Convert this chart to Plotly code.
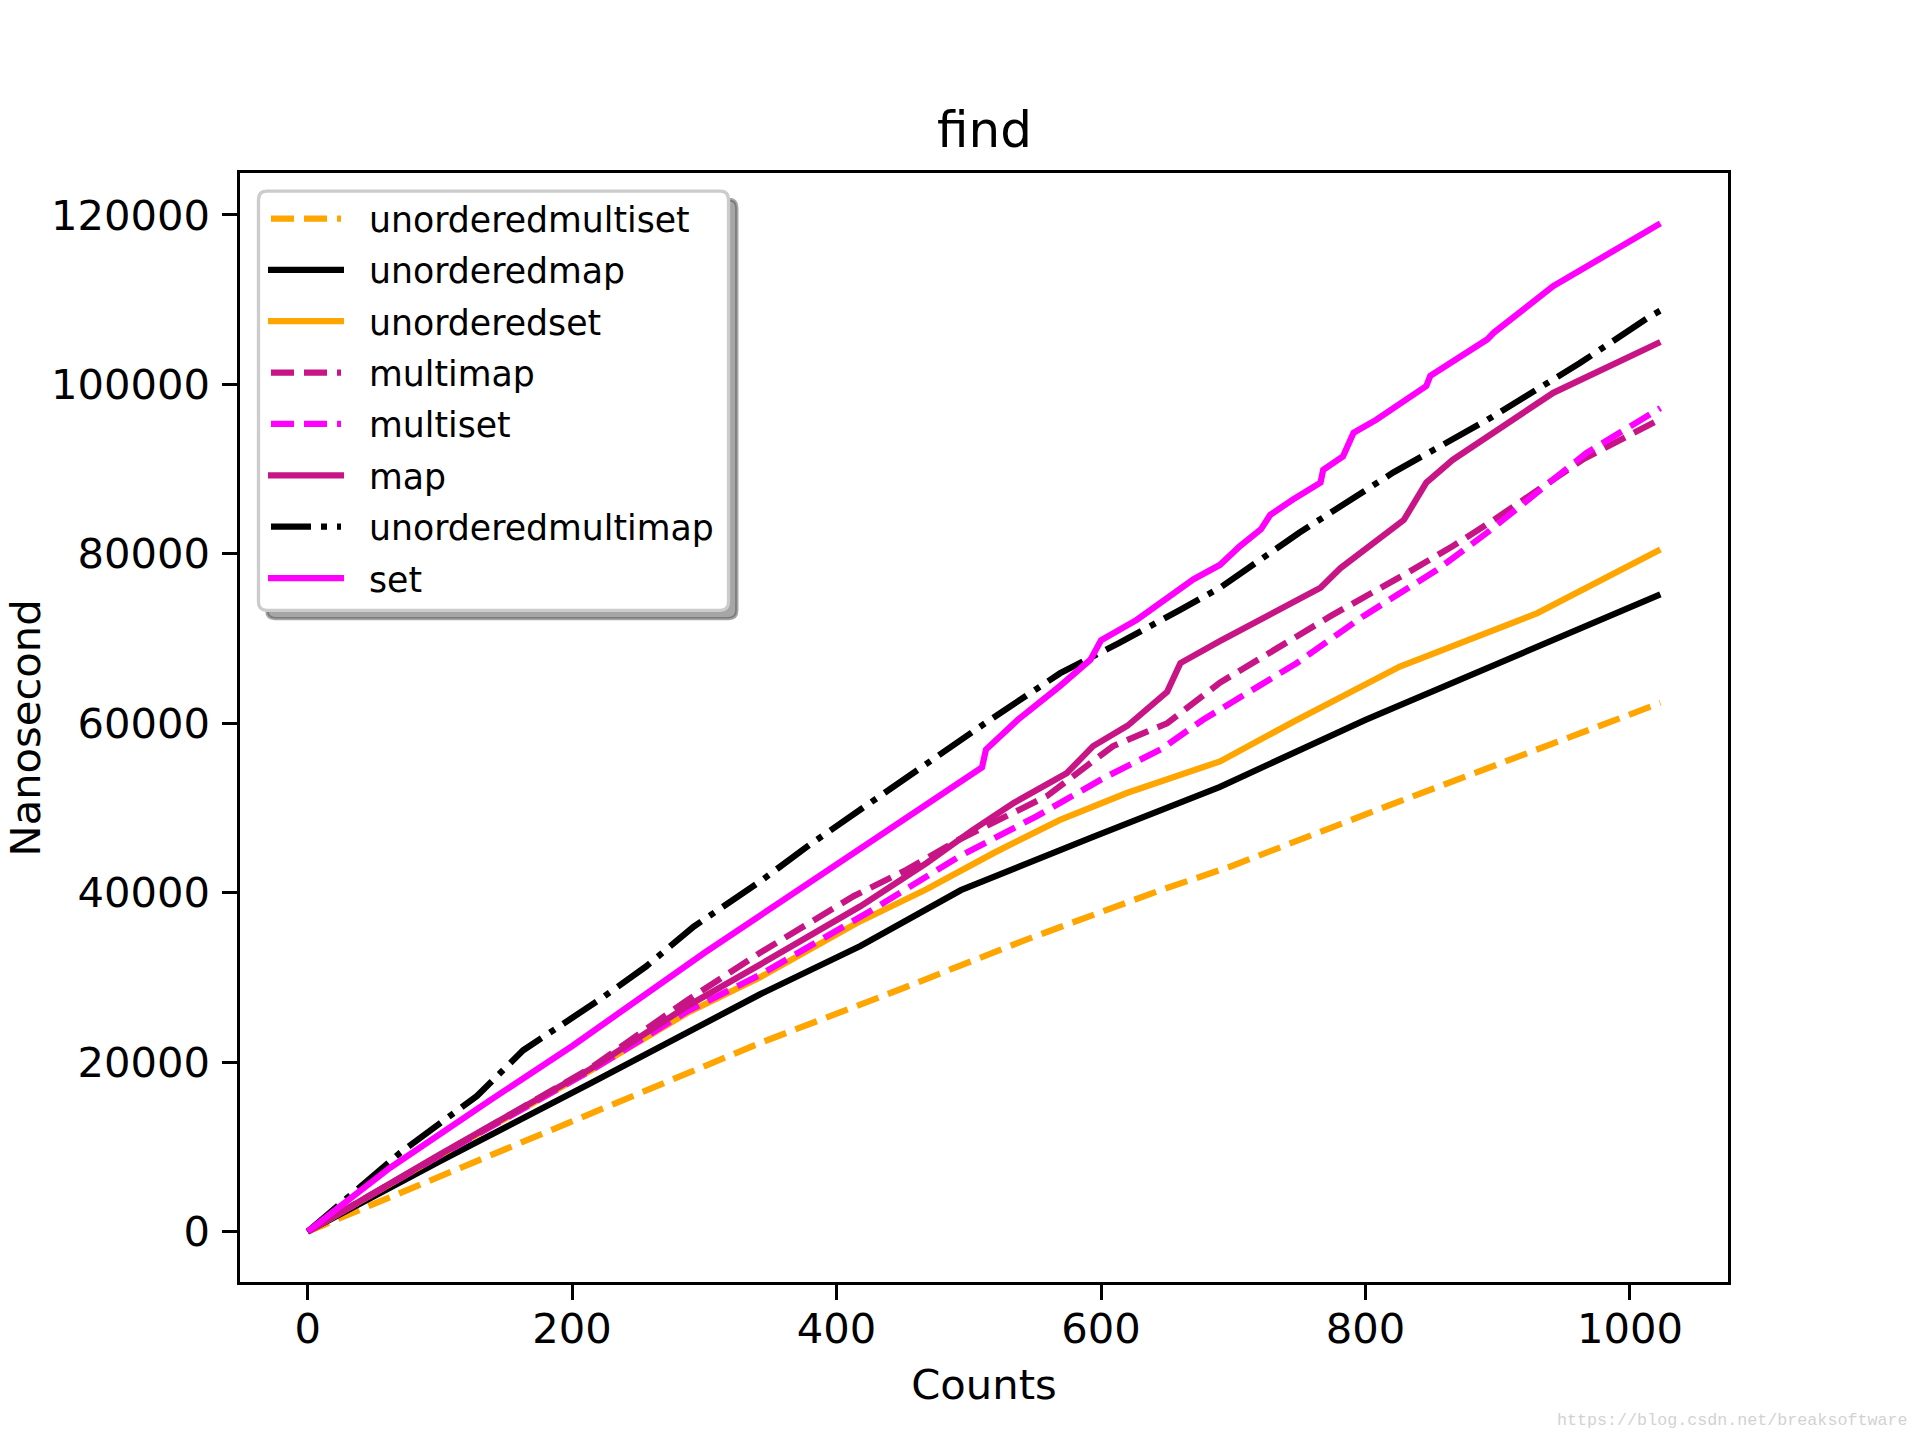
import plotly.graph_objects as go

# ---------------- data ----------------
series_names = ["unorderedmultiset", "unorderedmap", "unorderedset", "multimap",
                "multiset", "map", "unorderedmultimap", "set"]

counts_unorderedmultiset = [0, 100, 207, 342, 453, 544, 645, 698, 816, 917, 992, 1023]
ns_unorderedmultiset = [0, 6500, 13600, 22250, 28900, 34500, 40300, 43100, 50200, 56100, 60400, 62400]

counts_unorderedmap = [0, 100, 214, 342, 418, 494, 594, 690, 800, 892, 967, 1023]
ns_unorderedmap = [0, 8300, 17500, 28000, 33700, 40300, 46600, 52500, 60400, 66500, 71500, 75200]

counts_unorderedset = [0, 100, 214, 287, 342, 415, 468, 519, 569, 620, 690, 748, 826, 930, 1023]
ns_unorderedset = [0, 9000, 19000, 25800, 30000, 36400, 40400, 44700, 48600, 51800, 55500, 60400, 66700, 73000, 80500]

counts_multimap = [0, 100, 214, 287, 342, 413, 453, 493, 559, 609, 650, 690, 773, 831, 866, 897, 965, 1023]
ns_multimap = [0, 9100, 19300, 27300, 32900, 39600, 42700, 46300, 51400, 57300, 60000, 64800, 72600, 77700, 80900, 84000, 91200, 95900]

counts_multiset = [0, 100, 214, 287, 342, 423, 493, 551, 604, 645, 677, 698, 748, 798, 854, 892, 930, 967, 1023]
ns_multiset = [0, 9000, 19000, 26000, 30300, 37600, 44300, 49000, 53700, 56900, 60400, 62400, 67100, 72600, 78100, 82500, 87200, 91900, 97200]

counts_map = [0, 100, 214, 287, 342, 418, 468, 503, 534, 574, 594, 620, 650, 660, 690, 766, 781, 829, 846, 866, 942, 1023]
ns_map = [0, 9100, 19200, 26600, 31500, 38400, 43500, 47400, 50600, 54100, 57300, 59700, 63700, 67100, 69700, 76000, 78300, 84000, 88400, 91100, 99000, 105000]

counts_unorderedmultimap = [0, 70, 128, 163, 221, 256, 292, 342, 380, 425, 450, 493, 516, 569, 614, 660, 690, 750, 821, 892, 962, 1015, 1023]
ns_unorderedmultimap = [0, 9300, 16000, 21400, 27400, 31300, 36000, 41300, 45700, 50600, 53300, 58100, 60400, 65900, 69500, 73400, 76000, 82500, 89600, 95800, 102500, 108000, 108700]

counts_set = [0, 62, 138, 200, 300, 345, 400, 450, 500, 510, 513, 537, 569, 592, 600, 627, 670, 690,
              705, 721, 728, 745, 766, 768, 783, 791, 808, 846, 849, 892, 897, 942, 1023]
ns_set = [0, 7500, 15500, 21900, 32900, 37600, 43500, 48600, 53900, 54800, 56900, 60400, 64400, 67500, 69800, 72200, 77000, 78700,
          80900, 82900, 84600, 86400, 88400, 89900, 91500, 94300, 95800, 99800, 101000, 105300, 106100, 111600, 119000]

x_tick_values = [0, 200, 400, 600, 800, 1000]
y_tick_values = [0, 20000, 40000, 60000, 80000, 100000, 120000]

title_text = "find"
x_label = "Counts"
y_label = "Nanosecond"
watermark = "https://blog.csdn.net/breaksoftware"

# ---------------- styles ----------------
ORANGE = "#FFA500"
BLACK = "#000000"
MVR = "#C71585"
MAGENTA = "#FF00FF"
DASHED = "23px,10px"
DASHDOT = "40px,10px,6px,10px"
styles = {
    "unorderedmultiset": (ORANGE, DASHED),
    "unorderedmap": (BLACK, "solid"),
    "unorderedset": (ORANGE, "solid"),
    "multimap": (MVR, DASHED),
    "multiset": (MAGENTA, DASHED),
    "map": (MVR, "solid"),
    "unorderedmultimap": (BLACK, DASHDOT),
    "set": (MAGENTA, "solid"),
}
data = {
    "unorderedmultiset": (counts_unorderedmultiset, ns_unorderedmultiset),
    "unorderedmap": (counts_unorderedmap, ns_unorderedmap),
    "unorderedset": (counts_unorderedset, ns_unorderedset),
    "multimap": (counts_multimap, ns_multimap),
    "multiset": (counts_multiset, ns_multiset),
    "map": (counts_map, ns_map),
    "unorderedmultimap": (counts_unorderedmultimap, ns_unorderedmultimap),
    "set": (counts_set, ns_set),
}

FONT = "DejaVu Sans"
FS = 41.67
LEG_FS = 34.7
LW = 6.25

W, H = 1920, 1440
PL, PR, PT, PB = 240, 1728, 172.8, 1281.6
PW, PH = PR - PL, PB - PT


def xp(px):
    return (px - PL) / PW


def yp(py):
    return (PB - py) / PH


fig = go.Figure()
for name in series_names:
    xs, ys = data[name]
    color, dash = styles[name]
    fig.add_trace(go.Scatter(x=xs, y=ys, mode="lines", name=name,
                             line=dict(color=color, width=LW, dash=dash),
                             showlegend=False, hoverinfo="x+y+name"))

# axis ranges with matplotlib-style 5% margins
all_x = [v for n in series_names for v in data[n][0]]
all_y = [v for n in series_names for v in data[n][1]]
xmin, xmax = min(all_x), max(all_x)
ymin, ymax = min(all_y), max(all_y)
xr = [xmin - 0.05 * (xmax - xmin), xmax + 0.05 * (xmax - xmin)]
yr = [ymin - 0.05 * (ymax - ymin), ymax + 0.05 * (ymax - ymin)]

axis_common = dict(showgrid=False, zeroline=False, showline=True, mirror=True,
                   linecolor="black", linewidth=3.3, ticks="outside", ticklen=14.6,
                   tickwidth=3.3, tickcolor="black", automargin=False,
                   tickfont=dict(family=FONT, size=FS, color="black"))

fig.update_layout(
    width=W, height=H,
    margin=dict(l=PL, r=W - PR, t=PT, b=H - PB, pad=0, autoexpand=False),
    paper_bgcolor="white", plot_bgcolor="white",
    showlegend=False,
    xaxis=dict(range=xr, tickmode="array", tickvals=x_tick_values,
               ticktext=[str(v) for v in x_tick_values], ticklabelstandoff=-7,
               title=dict(text=x_label, font=dict(family=FONT, size=FS, color="black"), standoff=19),
               **axis_common),
    yaxis=dict(range=yr, tickmode="array", tickvals=y_tick_values,
               ticktext=[str(v) for v in y_tick_values], ticklabelstandoff=4,
               **axis_common),
)

# y-axis label
fig.add_annotation(text=y_label, x=xp(25), y=0.5, xref="paper", yref="paper",
                   xanchor="center", yanchor="middle", textangle=-90, showarrow=False,
                   font=dict(family=FONT, size=FS, color="black"))

# title
fig.add_annotation(text=title_text, x=0.5, y=1, xref="paper", yref="paper",
                   xanchor="center", yanchor="bottom", yshift=12, showarrow=False,
                   font=dict(family=FONT, size=50, color="black"))

# ---------------- legend drawn like matplotlib's (frame + shadow) ----------------
def rrect_path(x0, y0, x1, y1, r):
    pts = [
        ("M", [(x0 + r, y0)]), ("L", [(x1 - r, y0)]), ("Q", [(x1, y0), (x1, y0 + r)]),
        ("L", [(x1, y1 - r)]), ("Q", [(x1, y1), (x1 - r, y1)]), ("L", [(x0 + r, y1)]),
        ("Q", [(x0, y1), (x0, y1 - r)]), ("L", [(x0, y0 + r)]), ("Q", [(x0, y0), (x0 + r, y0)]),
    ]
    s = ""
    for cmd, ps in pts:
        s += cmd + " " + " ".join(f"{xp(a):.6f},{yp(b):.6f}" for a, b in ps) + " "
    return s + "Z"


LX0, LY0, LX1, LY1 = 258.5, 191.0, 728.5, 610.0
SH = 8.3
fig.add_shape(type="path", xref="paper", yref="paper",
              path=rrect_path(LX0 + SH, LY0 + SH, LX1 + SH, LY1 + SH, 8.3),
              fillcolor="rgba(77,77,77,0.5)", line=dict(color="rgba(77,77,77,0.5)", width=3.3),
              layer="above")
fig.add_shape(type="path", xref="paper", yref="paper",
              path=rrect_path(LX0, LY0, LX1, LY1, 8.3),
              fillcolor="white", line=dict(color="#cccccc", width=3.3), layer="above")

ROW0, PITCH = 218.3, 51.35
for i, name in enumerate(series_names):
    color, dash = styles[name]
    cy = ROW0 + i * PITCH
    if dash == "solid":
        hx0, hx1 = 268, 344
    else:
        hx0, hx1 = 271, 341
    fig.add_shape(type="line", xref="paper", yref="paper",
                  x0=xp(hx0), x1=xp(hx1), y0=yp(cy), y1=yp(cy),
                  line=dict(color=color, width=LW, dash=dash), layer="above")
    fig.add_annotation(text=name, xref="paper", yref="paper", x=xp(367), y=yp(cy + 1.5),
                       xanchor="left", yanchor="middle", showarrow=False,
                       font=dict(family=FONT, size=LEG_FS, color="black"))

# watermark
fig.add_annotation(text=watermark, xref="paper", yref="paper", x=xp(1910), y=yp(1420),
                   xanchor="right", yanchor="middle", showarrow=False,
                   font=dict(family="Liberation Mono", size=16.7, color="#d2d2d2"))

fig.write_html("out.html", config={"displayModeBar": False},
               post_script="document.body.style.margin='0';document.body.style.overflow='hidden';")
